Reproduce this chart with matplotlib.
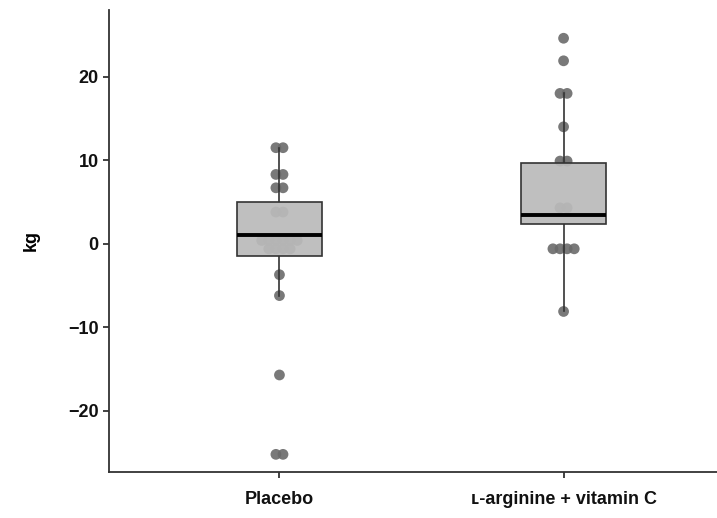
import matplotlib
matplotlib.use("Agg")
import matplotlib.pyplot as plt
import numpy as np
from collections import Counter

plt.rcParams['font.family'] = ['Liberation Sans', 'DejaVu Sans']

categories = ["Placebo", "ʟ-arginine + vitamin C"]
placebo = [11.5, 11.5, 8.3, 8.3, 6.7, 6.7, 3.8, 3.8,
           0.4, 0.4, 0.4, 0.4, 0.4, 0.4,
           -0.6, -0.6, -0.6, -0.6,
           -3.7, -6.2, -15.7, -25.2, -25.2]
arginine = [24.6, 21.9, 18.0, 18.0, 14.0, 9.9, 9.9, 4.3, 4.3,
            -0.6, -0.6, -0.6, -0.6, -8.1]
# box stats: q1, median, q3, whisker low, whisker high
box_stats = [
    dict(q1=-1.5, med=1.05, q3=5.0, lo=-6.2, hi=11.5),
    dict(q1=2.4, med=3.5, q3=9.7, lo=-8.1, hi=18.0),
]
yticks = [-20, -10, 0, 10, 20]

fig = plt.figure(figsize=(7.17, 5.18), dpi=100)
ax = fig.add_axes([0.152, 0.089, 0.848, 0.892])

positions = [1, 2]
spacing = 0.025
for pos, vals in zip(positions, [placebo, arginine]):
    counts = Counter(vals)
    xs, ys = [], []
    for v, n in counts.items():
        for i in range(n):
            xs.append(pos + (i - (n - 1) / 2) * spacing)
            ys.append(v)
    ax.scatter(xs, ys, s=60, color='#6a6a6a', alpha=0.9, edgecolors='none', zorder=1)

bw = 0.3
for pos, st in zip(positions, box_stats):
    ax.add_patch(plt.Rectangle((pos - bw / 2, st['q1']), bw, st['q3'] - st['q1'],
                               facecolor=(0.73, 0.73, 0.73, 0.93), edgecolor='#333333',
                               linewidth=1.2, zorder=3))
    ax.plot([pos - bw / 2, pos + bw / 2], [st['med'], st['med']], color='black', lw=2.8,
            zorder=4, solid_capstyle='butt')
    ax.plot([pos, pos], [st['q3'], st['hi']], color='#333333', lw=1.2, zorder=2)
    ax.plot([pos, pos], [st['lo'], st['q1']], color='#333333', lw=1.2, zorder=2)

ax.set_xlim(0.4, 2.54)
ax.set_ylim(-27.3, 28.0)
ax.set_xticks(positions)
ax.set_xticklabels(categories, fontsize=13, fontweight='bold', color='#111111')
ax.set_yticks(yticks)
ax.set_yticklabels([f"{t}".replace('-', '\u2212') for t in yticks], fontsize=13,
                   fontweight='bold', color='#111111')
ax.set_ylabel('kg', fontsize=13, fontweight='bold', labelpad=20)
for s in ['top', 'right']:
    ax.spines[s].set_visible(False)
for s in ['left', 'bottom']:
    ax.spines[s].set_color('#333333')
    ax.spines[s].set_linewidth(1.3)
ax.tick_params(axis='both', length=4, width=1.3, color='#333333')
ax.tick_params(axis='x', pad=10)

fig.savefig('out.png', dpi=100)
